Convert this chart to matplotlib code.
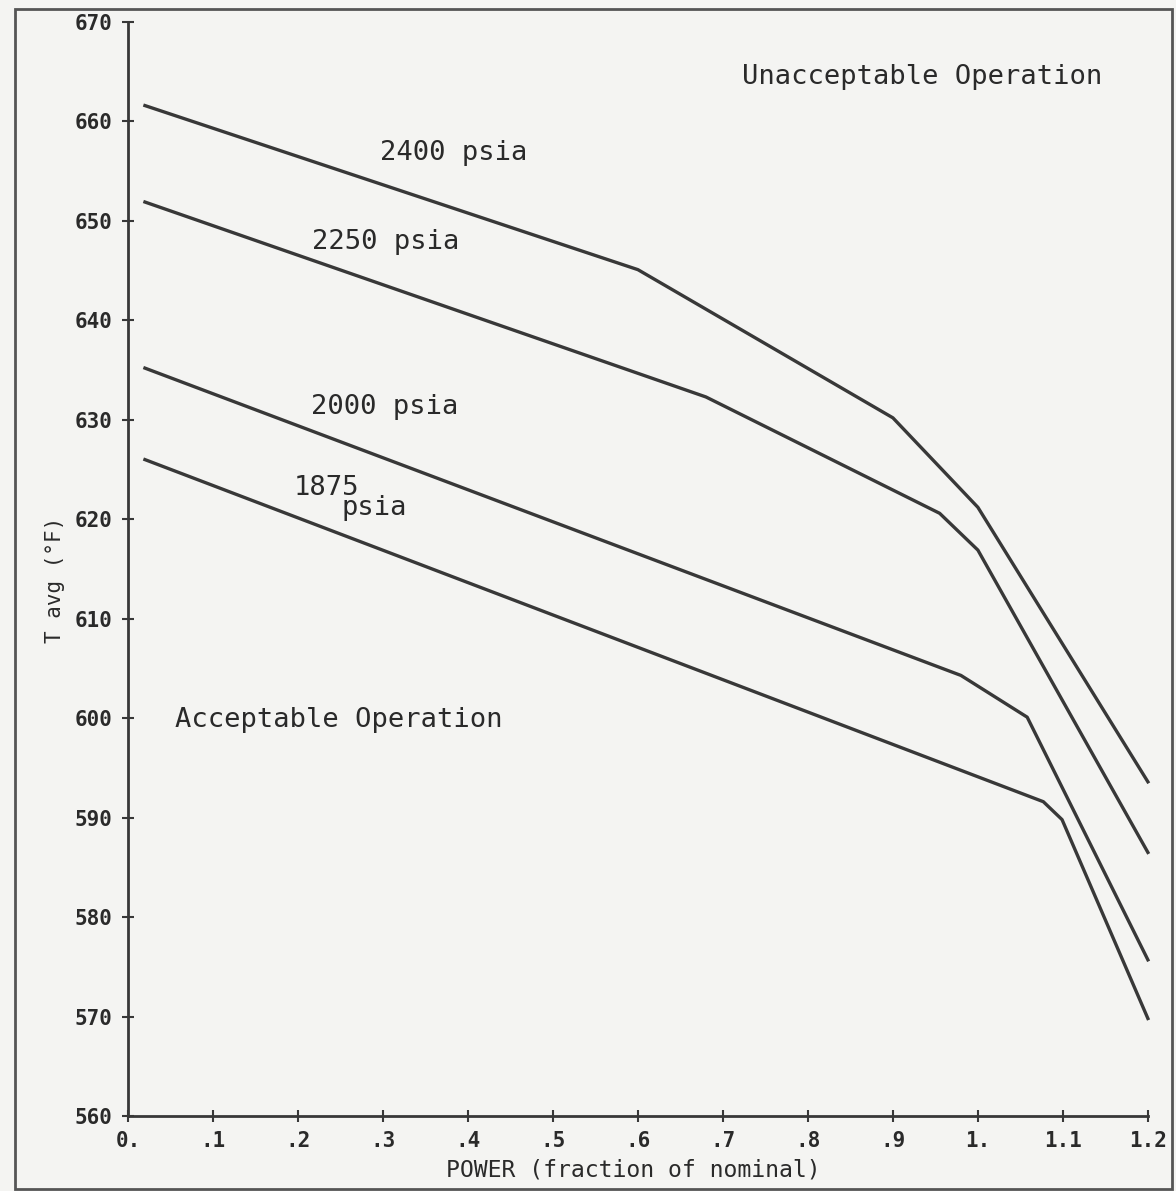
import numpy as np
import matplotlib.pyplot as plt
from matplotlib.patches import Rectangle

# curve break points
power_2400 = [0.02, 0.60, 0.90, 1.00, 1.20]
tavg_2400 = [661.6, 645.1, 630.2, 621.2, 593.6]

power_2250 = [0.02, 0.68, 0.955, 1.00, 1.20]
tavg_2250 = [651.9, 632.3, 620.6, 616.9, 586.5]

power_2000 = [0.02, 0.98, 1.058, 1.20]
tavg_2000 = [635.2, 604.3, 600.1, 575.7]

power_1875 = [0.02, 1.077, 1.099, 1.20]
tavg_1875 = [626.0, 591.6, 589.8, 569.8]

x_ticks = [0, .1, .2, .3, .4, .5, .6, .7, .8, .9, 1.0, 1.1, 1.2]
x_tick_labels = ['0.', '.1', '.2', '.3', '.4', '.5', '.6', '.7', '.8', '.9', '1.', '1.1', '1.2']
y_ticks = [560, 570, 580, 590, 600, 610, 620, 630, 640, 650, 660, 670]

BG = '#f4f4f2'
INK = '#383838'
FONT = 'DejaVu Sans Mono'

fig = plt.figure(figsize=(11.76, 11.91), dpi=100, facecolor=BG)
ax = fig.add_axes([0.1088, 0.0630, 0.8673, 0.9185])
ax.set_facecolor(BG)

for px, ty in [(power_2400, tavg_2400), (power_2250, tavg_2250),
               (power_2000, tavg_2000), (power_1875, tavg_1875)]:
    ax.plot(px, ty, color=INK, linewidth=2.4, solid_joinstyle='round', clip_on=False)

ax.set_xlim(0, 1.2)
ax.set_ylim(560, 670)
ax.set_xticks(x_ticks)
ax.set_xticklabels(x_tick_labels)
ax.set_yticks(y_ticks)

for side in ['top', 'right']:
    ax.spines[side].set_visible(False)
for side in ['left', 'bottom']:
    ax.spines[side].set_color(INK)
    ax.spines[side].set_linewidth(2)

ax.tick_params(direction='inout', length=8, width=1.5, color=INK,
               labelsize=15, labelcolor='#2a2a2a', pad=7)
for lab in ax.get_xticklabels() + ax.get_yticklabels():
    lab.set_family(FONT)
    lab.set_fontweight('bold')

# curve labels
txt = dict(family=FONT, fontsize=19.5, color='#2a2a2a', va='center', ha='left')
ax.text(0.297, 656.8, '2400 psia', **txt)
ax.text(0.216, 647.9, '2250 psia', **txt)
ax.text(0.215, 631.3, '2000 psia', **txt)
ax.text(0.195, 623.1, '1875', **txt)
ax.text(0.251, 621.1, 'psia', **txt)
ax.text(0.722, 664.5, 'Unacceptable Operation', **txt)
ax.text(0.055, 599.8, 'Acceptable Operation', **txt)

fig.text(0.5383, 1 - 1170 / 1191, 'POWER (fraction of nominal)', family=FONT,
         fontsize=16.7, color='#2a2a2a', ha='center', va='center')
fig.text(55 / 1176, 1 - 580 / 1191, 'T avg (°F)', family=FONT, fontsize=15,
         color='#2a2a2a', ha='center', va='center', rotation=90)

# outer frame of the scanned page
fig.patches.append(Rectangle((0.0128, 0.0017), 0.9838, 0.9907, transform=fig.transFigure,
                             fill=False, edgecolor='#555555', linewidth=2))

fig.savefig('out.png', dpi=100, facecolor=BG)
